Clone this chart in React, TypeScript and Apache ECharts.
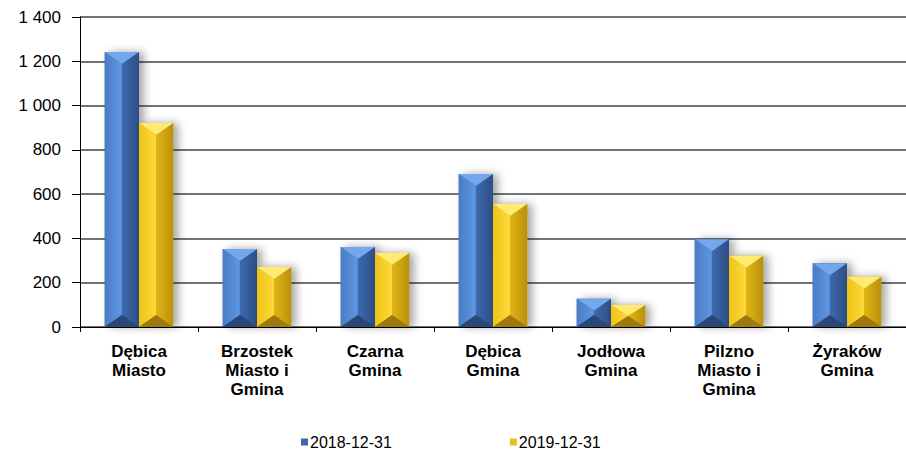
import React, { useEffect, useRef } from "react";
import * as echarts from "echarts";

const categories = [
  "Dębica\nMiasto",
  "Brzostek\nMiasto i\nGmina",
  "Czarna\nGmina",
  "Dębica\nGmina",
  "Jodłowa\nGmina",
  "Pilzno\nMiasto i\nGmina",
  "Żyraków\nGmina",
];
const series2018 = [1242, 352, 361, 691, 128, 396, 288];
const series2019 = [921, 271, 334, 555, 99, 322, 227];
const seriesNames = ["2018-12-31", "2019-12-31"];
const yTicks = { min: 0, max: 1400, interval: 200 };

const palettes = [
  {
    legend: "#3A68B0",
    top: "#74A8EE",
    leftA: "#4A7CC4",
    leftB: "#5E98E4",
    rightA: "#3E6AAE",
    rightB: "#2C4E84",
    bottom: "#2A4778",
  },
  {
    legend: "#E8C020",
    top: "#FFEB70",
    leftA: "#EFC418",
    leftB: "#FFD93A",
    rightA: "#E2B614",
    rightB: "#B8900C",
    bottom: "#9C7A10",
  },
];

function makeRenderItem(seriesIdx: number) {
  const p = palettes[seriesIdx];
  return (params: any, api: any) => {
    const cat = api.value(0);
    const val = api.value(1);
    const top = api.coord([cat, val]);
    const base = api.coord([cat, 0]);
    const band = api.size([1, 0])[0];
    const w = band * 0.29;
    const cx0 = top[0];
    const x0 = seriesIdx === 0 ? cx0 - w : cx0;
    const x1 = x0 + w;
    const y0 = top[1];
    const y1 = base[1];
    const h = y1 - y0;
    const d = Math.min(12, h / 2);
    const cx = (x0 + x1) / 2;
    return {
      type: "group",
      children: [
        {
          type: "rect",
          shape: { x: x0, y: y0, width: w, height: h },
          style: {
            fill: p.rightB,
            shadowBlur: 8,
            shadowOffsetX: 5,
            shadowOffsetY: 0,
            shadowColor: "rgba(0,0,0,0.35)",
          },
        },
        {
          type: "polygon",
          shape: { points: [[x0, y0], [cx, y0 + d], [cx, y1 - d], [x0, y1]] },
          style: {
            fill: new echarts.graphic.LinearGradient(0, 0, 1, 0, [
              { offset: 0, color: p.leftA },
              { offset: 1, color: p.leftB },
            ]),
          },
        },
        {
          type: "polygon",
          shape: { points: [[x1, y0], [cx, y0 + d], [cx, y1 - d], [x1, y1]] },
          style: {
            fill: new echarts.graphic.LinearGradient(0, 0, 1, 0, [
              { offset: 0, color: p.rightA },
              { offset: 1, color: p.rightB },
            ]),
          },
        },
        {
          type: "polygon",
          shape: { points: [[x0, y0], [x1, y0], [cx, y0 + d]] },
          style: { fill: p.top },
        },
        {
          type: "polygon",
          shape: { points: [[x0, y1], [x1, y1], [cx, y1 - d]] },
          style: { fill: p.bottom },
        },
      ],
    };
  };
}

export default function App() {
  const ref = useRef<HTMLDivElement>(null);
  useEffect(() => {
    if (!ref.current) return;
    const chart = echarts.init(ref.current, null, { renderer: "svg" });
    const font = "'Liberation Sans', Arial, sans-serif";
    chart.setOption({
      animation: false,
      backgroundColor: "#ffffff",
      grid: { left: 80, right: 0, top: 17, bottom: 125, containLabel: false },
      legend: {
        left: 296,
        top: 429,
        itemGap: 118,
        itemWidth: 7,
        itemHeight: 7,
        icon: "rect",
        textStyle: { fontFamily: font, fontSize: 16, color: "#000", padding: [0, 0, 0, -3] },
        data: seriesNames.map((n, i) => ({
          name: n,
          itemStyle: { color: palettes[i].legend },
        })),
      },
      xAxis: {
        type: "category",
        data: categories,
        axisLine: { lineStyle: { color: "#000", width: 1 } },
        axisTick: { show: true, length: 5, alignWithLabel: false, lineStyle: { color: "#000" } },
        axisLabel: {
          interval: 0,
          margin: 15,
          fontFamily: font,
          fontSize: 17,
          fontWeight: "bold",
          lineHeight: 19,
          color: "#000",
        },
      },
      yAxis: {
        type: "value",
        min: yTicks.min,
        max: yTicks.max,
        interval: yTicks.interval,
        axisLine: { show: true, lineStyle: { color: "#000", width: 1 } },
        axisTick: { show: true, length: 8, inside: false, lineStyle: { color: "#000" } },
        axisLabel: {
          margin: 19,
          fontFamily: font,
          fontSize: 17,
          color: "#000",
          formatter: (v: number) => String(v).replace(/\B(?=(\d{3})+(?!\d))/g, " "),
        },
        splitLine: { show: true, lineStyle: { color: "#444444", width: 1.5 } },
      },
      series: [series2018, series2019].map((arr, si) => ({
        type: "custom",
        name: seriesNames[si],
        itemStyle: { color: palettes[si].legend },
        renderItem: makeRenderItem(si),
        encode: { x: 0, y: 1 },
        data: arr.map((v, i) => [i, v]),
        z: 3,
      })),
    });
    return () => chart.dispose();
  }, []);
  return (
    <div
      ref={ref}
      style={{ position: "fixed", left: 0, top: 0, width: 906, height: 452 }}
    />
  );
}
